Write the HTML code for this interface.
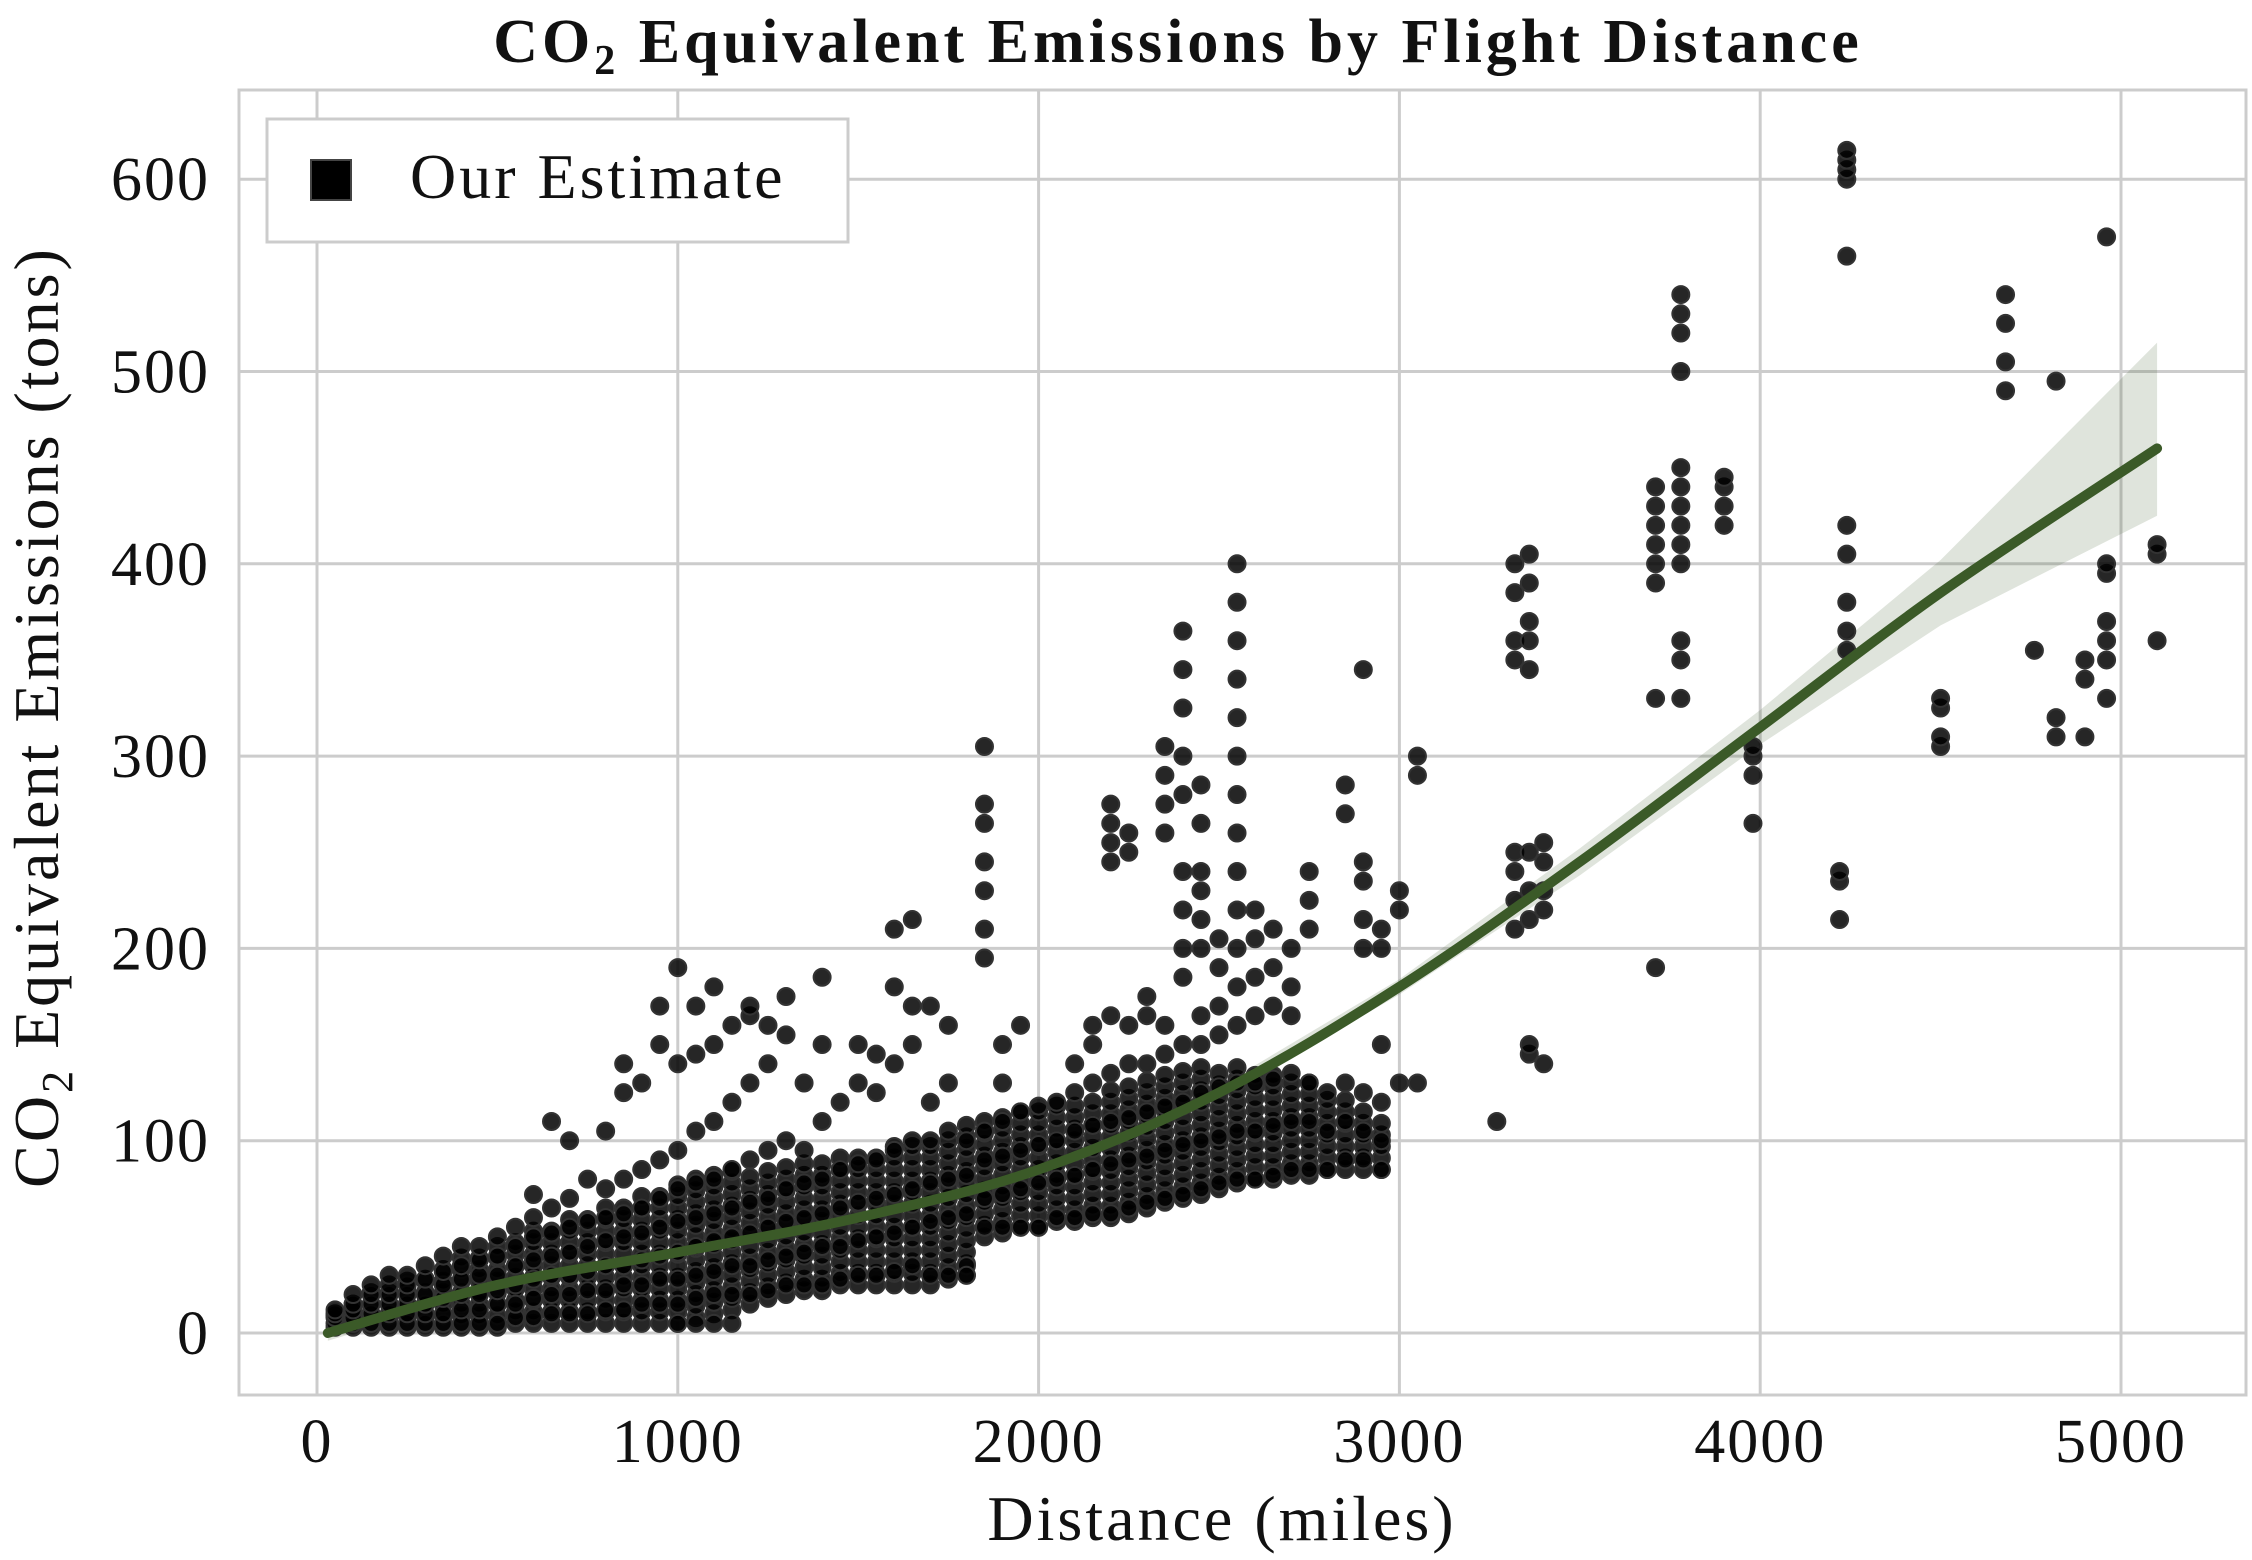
<!DOCTYPE html>
<html><head><meta charset="utf-8"><style>
html,body{margin:0;padding:0;background:#fff}
svg{display:block}
text{font-family:"Liberation Serif",serif;fill:#111}
</style></head><body>
<svg id="chart" width="2252" height="1560" viewBox="0 0 2252 1560" xmlns="http://www.w3.org/2000/svg">
<rect x="0" y="0" width="2252" height="1560" fill="#fff"/>
<g id="grid"></g>
<rect x="239" y="90" width="2007" height="1305" fill="none" stroke="#ccc" stroke-width="3"/>
<g id="band"></g>
<g id="points"></g>
<g id="fit"></g>
<g id="ticks"></g>
<text x="1178" y="62" text-anchor="middle" font-size="62" font-weight="bold" letter-spacing="4">CO<tspan font-size="42" dy="12">2</tspan><tspan dy="-12"> Equivalent Emissions by Flight Distance</tspan></text>
<text x="1222" y="1540" text-anchor="middle" font-size="64" letter-spacing="3">Distance (miles)</text>
<text transform="translate(58,717) rotate(-90)" text-anchor="middle" font-size="64" letter-spacing="3">CO<tspan font-size="44" dy="14">2</tspan><tspan dy="-14"> Equivalent Emissions (tons)</tspan></text>
<g>
<rect x="267" y="119" width="581" height="123" fill="#fff" stroke="#ccc" stroke-width="3"/>
<rect x="311" y="160" width="40" height="40" fill="#000" stroke="#444" stroke-width="2"/>
<text x="410" y="198" font-size="64" letter-spacing="3">Our Estimate</text>
</g>
</svg>
<script>
const xTicks=[0,1000,2000,3000,4000,5000];
const yTicks=[0,100,200,300,400,500,600];
const fitX=[30,500,1000,1500,2000,2500,3000,3500,4000,4500,5100];
const fitY=[0,25,42,60,85,125,180,245,315,385,460];
const bandUpper=[4,28,44,62,87,128,184,252,324,402,515];
const bandLower=[-4,22,40,58,83,122,176,238,306,368,425];
const denseX=[50,100,150,200,250,300,350,400,450,500,550,600,650,700,750,800,850,900,950,1000,1050,1100,1150,1200,1250,1300,1350,1400,1450,1500,1550,1600,1650,1700,1750,1800,1850,1900,1950,2000,2050,2100,2150,2200,2250,2300,2350,2400,2450,2500,2550,2600,2650,2700,2750,2800,2850,2900,2950];
const denseLo=[3,3,3,3,3,3,3,3,3,3,5,5,5,5,5,5,5,5,5,5,8,10,12,15,18,20,22,22,25,25,25,25,25,25,28,30,50,52,55,55,58,58,60,60,62,65,68,70,72,75,78,80,80,82,82,85,85,85,85];
const denseHi=[12,18,22,26,28,32,36,40,42,46,50,55,58,60,62,66,70,72,76,80,80,82,84,85,86,88,90,92,92,95,95,98,100,102,105,108,110,112,115,118,120,122,125,128,130,132,135,138,140,140,140,138,135,132,130,125,125,120,110];
const colX=[50,100,150,200,250,300,350,400,450,500,550,600,650,700,750,800,850,900,950,1000,1050,1100,1150,1200,1250,1300,1350,1400,1450,1500,1550,1600,1650,1700,1750,1800,1850,1900,1950,2000,2050,2100,2150,2200,2250,2300,2350,2400,2450,2500,2550,2600,2650,2700,2750,2800,2850,2900,2950,3000,3050,3270,3320,3360,3400,3710,3780,3900,3980,4220,4240,4500,4680,4760,4820,4900,4960,5100];
const colY=[[5,8,10,12],[5,8,12,15,20],[5,10,15,20,25],[5,10,15,20,25,30],[5,10,15,20,25,30],[5,10,15,20,28,35],[5,10,18,25,32,40],[5,12,20,28,35,45],[5,12,20,30,38,45],[5,15,22,30,40,50],[8,15,25,35,45,55],[8,18,28,38,50,60,72],[10,20,30,40,52,65,110],[10,20,30,42,55,70,100],[10,22,32,45,58,80],[12,22,35,48,60,75,105],[12,25,35,50,62,80,125,140],[15,25,38,52,65,85,130],[15,28,40,55,70,90,150,170],[5,15,28,42,58,75,95,140,190],[5,18,30,45,60,78,105,145,170],[5,20,32,48,62,80,110,150,180],[5,20,35,50,65,85,120,160],[20,35,52,68,90,130,165,170],[22,38,55,70,95,140,160],[25,40,58,75,100,155,175],[25,42,60,78,95,130],[25,45,62,80,110,150,185],[28,45,65,85,120],[30,48,68,88,130,150],[30,50,70,90,125,145],[32,52,72,95,140,180,210],[35,55,75,100,150,170,215],[30,58,78,100,120,170],[30,60,80,105,130,160],[35,62,82,100,30],[55,70,90,105,195,210,230,245,265,275,305],[55,72,92,110,130,150],[55,75,95,115,160],[55,78,98,118],[60,80,100,120],[60,82,105,125,140],[62,85,108,130,150,160],[62,88,110,135,165,245,255,265,275],[65,90,112,140,160,250,260],[68,92,115,140,165,175],[70,95,118,145,160,260,275,290,305],[72,98,120,150,185,200,220,240,280,300,325,345,365],[75,100,125,150,165,200,215,230,240,265,285],[78,102,128,155,170,190,205],[80,105,130,160,180,200,220,240,260,280,300,320,340,360,380,400],[80,105,130,165,185,205,220],[82,108,132,170,190,210],[85,110,135,165,180,200],[85,110,130,210,225,240],[85,105,125],[90,110,130,270,285],[90,105,125,200,215,235,245,345],[85,100,120,150,200,210],[130,220,230],[300,290,130],[110],[210,225,240,250,350,360,385,400],[145,150,215,230,250,345,360,370,390,405],[140,220,230,245,255],[190,330,390,400,410,420,430,440],[330,350,360,400,410,420,430,440,450,500,520,530,540],[420,430,440,445],[265,290,300,305],[215,235,240],[355,365,380,405,420,560,600,605,610,615],[305,310,325,330],[490,505,525,540],[355],[310,320,495],[310,340,350],[330,350,360,370,395,400,570],[360,405,410]];
const NS='http://www.w3.org/2000/svg';
function sx(v){return 317+v*0.3608;}
function sy(v){return 1333-v*1.923;}
function mk(tag,attrs,parent){const e=document.createElementNS(NS,tag);for(const k in attrs)e.setAttribute(k,attrs[k]);parent.appendChild(e);return e;}
const grid=document.getElementById('grid'),ticks=document.getElementById('ticks');
xTicks.forEach(t=>{
 const l=mk('line',{x1:sx(t),x2:sx(t),y1:90,y2:1395,stroke:'#ccc','stroke-width':3},grid);
 
 
 const tx=mk('text',{x:sx(t),y:1462,'text-anchor':'middle','font-size':62,'letter-spacing':2},ticks);tx.textContent=t;
 
 
});
yTicks.forEach(t=>{
 const l=mk('line',{x1:239,x2:2246,y1:sy(t),y2:sy(t),stroke:'#ccc','stroke-width':3},grid);
 
 
 const tx=mk('text',{x:210,y:sy(t)+21,'text-anchor':'end','font-size':62,'letter-spacing':2},ticks);tx.textContent=t;
 
 
});
const pts=document.getElementById('points');
function dot(x,y){
 const c=mk('circle',{cx:sx(x),cy:sy(y),r:8.5,fill:'#000','fill-opacity':0.85,stroke:'#333','stroke-width':2},pts);
 
 
}
denseX.forEach((x,i)=>{for(let y=denseLo[i];y<=denseHi[i];y+=6)dot(x,y);});
colX.forEach((x,i)=>{colY[i].forEach(y=>dot(x,y));});
let bd='M'+fitX.map((x,i)=>sx(x)+','+sy(bandUpper[i])).join(' L');
for(let i=fitX.length-1;i>=0;i--)bd+=' L'+sx(fitX[i])+','+sy(bandLower[i]);
const band=mk('path',{d:bd+' Z',fill:'#3b5a28','fill-opacity':0.16,stroke:'none'},document.getElementById('band'));


const P=fitX.map((x,i)=>[sx(x),sy(fitY[i])]);
let d='M'+P[0][0]+','+P[0][1];
for(let i=0;i<P.length-1;i++){const p0=P[Math.max(0,i-1)],p1=P[i],p2=P[i+1],p3=P[Math.min(P.length-1,i+2)];
 d+=' C'+(p1[0]+(p2[0]-p0[0])/6)+','+(p1[1]+(p2[1]-p0[1])/6)+' '+(p2[0]-(p3[0]-p1[0])/6)+','+(p2[1]-(p3[1]-p1[1])/6)+' '+p2[0]+','+p2[1];}
const line=mk('path',{d:d,fill:'none',stroke:'#3b5a28','stroke-width':10,'stroke-linecap':'round'},document.getElementById('fit'));


</script>
</body></html>
